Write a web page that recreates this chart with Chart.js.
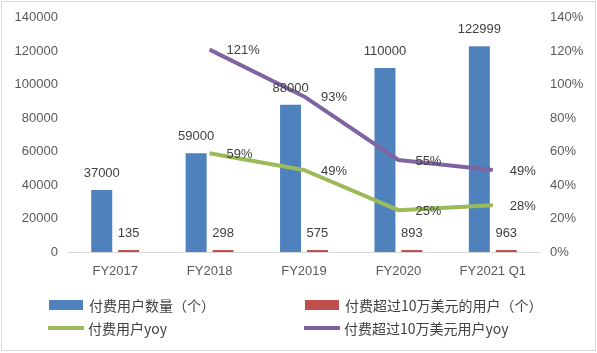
<!DOCTYPE html>
<html>
<head>
    <meta charset="utf-8">
    <title>付费用户</title>
    <style>
        * { margin: 0; padding: 0; box-sizing: border-box; }
        body { background: #fff; width: 597px; height: 353px; overflow: hidden; }
        #wrap { position: relative; width: 597px; height: 353px; }
    </style>
</head>
<body>
    <div id="wrap"><canvas id="chart" width="597" height="353"></canvas></div>
    <script src="https://cdn.jsdelivr.net/npm/chart.js"></script>
    <script>
        // dados
        var categories = ['FY2017', 'FY2018', 'FY2019', 'FY2020', 'FY2021 Q1'];
        var paidUsers = [37000, 59000, 88000, 110000, 122999];
        var bigUsers = [135, 298, 575, 893, 963];
        var paidYoy = [null, 0.59, 0.49, 0.25, 0.28];
        var bigYoy = [null, 1.21, 0.93, 0.55, 0.49];
        var seriesNames = ['付费用户数量（个）', '付费超过10万美元的用户（个）', '付费用户yoy', '付费超过10万美元用户yoy'];

        var numFont = '13px "Liberation Sans", Arial, sans-serif';
        var cjkFont = '14px "Noto Sans CJK SC", sans-serif';

        // rótulos de valores
        var valueLabels = {
            id: 'valueLabels',
            afterDatasetsDraw: function (chart) {
                var ctx = chart.ctx;
                ctx.save();
                ctx.font = numFont;
                ctx.fillStyle = '#404040';
                chart.data.datasets.forEach(function (ds, di) {
                    var meta = chart.getDatasetMeta(di);
                    meta.data.forEach(function (el, i) {
                        var v = ds.data[i];
                        if (v === null) return;
                        if (ds.type === 'bar') {
                            ctx.textAlign = 'center';
                            ctx.textBaseline = 'bottom';
                            ctx.fillText(String(v), el.x, el.y - 10);
                        } else {
                            ctx.textAlign = 'left';
                            ctx.textBaseline = 'middle';
                            ctx.fillText(Math.round(v * 100) + '%', el.x + 17, el.y + 1);
                        }
                    });
                });
                ctx.restore();
            }
        };

        // legenda em duas colunas + moldura
        var legendBox = {
            id: 'legendBox',
            afterDraw: function (chart) {
                var ctx = chart.ctx;
                ctx.save();
                ctx.strokeStyle = '#d9d9d9';
                ctx.lineWidth = 1;
                ctx.strokeRect(1.5, 1.5, 594, 349);
                var items = [
                    { x: 49, y: 305, kind: 'box', color: '#4F81BD', text: seriesNames[0] },
                    { x: 305, y: 305, kind: 'box', color: '#C0504D', text: seriesNames[1] },
                    { x: 48, y: 328, kind: 'line', color: '#9BBB59', text: seriesNames[2] },
                    { x: 304, y: 328, kind: 'line', color: '#8064A2', text: seriesNames[3] }
                ];
                ctx.font = cjkFont;
                ctx.textAlign = 'left';
                ctx.textBaseline = 'middle';
                items.forEach(function (it) {
                    if (it.kind === 'box') {
                        ctx.fillStyle = it.color;
                        ctx.fillRect(it.x, it.y - 5, 34, 10);
                    } else {
                        ctx.strokeStyle = it.color;
                        ctx.lineWidth = 4;
                        ctx.beginPath();
                        ctx.moveTo(it.x, it.y);
                        ctx.lineTo(it.x + 36, it.y);
                        ctx.stroke();
                    }
                    ctx.fillStyle = '#404040';
                    ctx.fillText(it.text, it.x + 40, it.y + 1);
                });
                ctx.restore();
            }
        };

        var tickFont = { family: '"Liberation Sans", Arial, sans-serif', size: 13 };

        var ctx = document.getElementById('chart').getContext('2d');
        var chart = new Chart(ctx, {
            data: {
                labels: categories,
                datasets: [
                    { type: 'bar', label: seriesNames[0], data: paidUsers, backgroundColor: '#4F81BD', yAxisID: 'y', order: 1,
                      categoryPercentage: 0.57, barPercentage: 0.78 },
                    { type: 'bar', label: seriesNames[1], data: bigUsers, backgroundColor: '#C0504D', yAxisID: 'y', order: 1,
                      categoryPercentage: 0.57, barPercentage: 0.78, minBarLength: 2 },
                    { type: 'line', label: seriesNames[2], data: paidYoy, borderColor: '#9BBB59', borderWidth: 4,
                      pointRadius: 0, tension: 0, yAxisID: 'y1', order: 0, borderJoinStyle: 'round' },
                    { type: 'line', label: seriesNames[3], data: bigYoy, borderColor: '#8064A2', borderWidth: 4,
                      pointRadius: 0, tension: 0, yAxisID: 'y1', order: 0, borderJoinStyle: 'round' }
                ]
            },
            options: {
                responsive: false,
                animation: false,
                layout: { padding: { top: 13, bottom: 69, left: 0, right: 0 } },
                plugins: { legend: { display: false }, tooltip: { enabled: false } },
                scales: {
                    x: {
                        grid: { display: false, drawTicks: false },
                        border: { display: true, color: '#d9d9d9', width: 1 },
                        ticks: { color: '#595959', font: tickFont, padding: 12 },
                        afterFit: function (s) { s.height = 32; }
                    },
                    y: {
                        position: 'left',
                        min: 0, max: 140000,
                        grid: { display: false, drawTicks: false },
                        border: { display: false },
                        ticks: {
                            stepSize: 20000, color: '#595959', font: tickFont, padding: 10,
                            callback: function (v) { return String(v); }
                        },
                        afterFit: function (s) { s.width = 68; }
                    },
                    y1: {
                        position: 'right',
                        min: 0, max: 1.4,
                        grid: { display: false, drawTicks: false },
                        border: { display: false },
                        ticks: {
                            stepSize: 0.2, color: '#595959', font: tickFont, padding: 10,
                            callback: function (v) { return Math.round(v * 100) + '%'; }
                        },
                        afterFit: function (s) { s.width = 57; }
                    }
                }
            },
            plugins: [valueLabels, legendBox]
        });
    </script>
</body>
</html>
